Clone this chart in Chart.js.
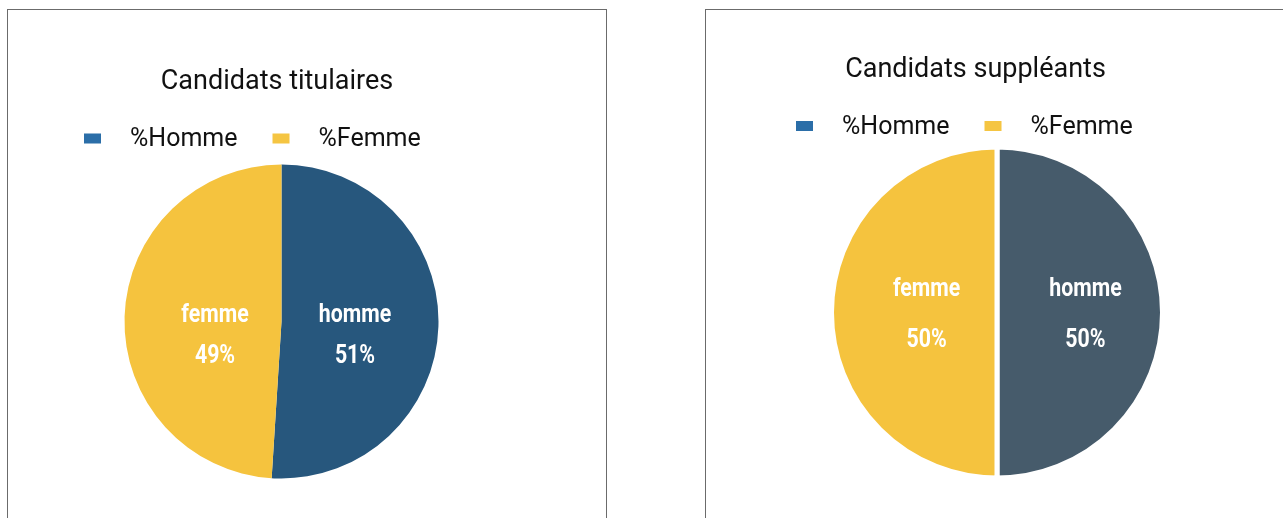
<!DOCTYPE html>
<html>
<head>
<meta charset="utf-8">
<script src="https://cdn.jsdelivr.net/npm/chart.js@4.4.0/dist/chart.umd.min.js"></script>
<style>
  body { margin: 0; background: #fff; width: 1283px; height: 518px; overflow: hidden; position: relative; }
  .panel { position: absolute; border: 1px solid #6b6b6b; box-sizing: border-box; }
  canvas { position: absolute; top: 0; }
</style>
</head>
<body>
<div class="panel" style="left:7px; top:9px; width:600px; height:600px;"></div>
<div class="panel" style="left:705px; top:9px; width:700px; height:600px;"></div>
<canvas id="chartTitulaires" width="640" height="518" style="left:0"></canvas>
<canvas id="chartSuppleants" width="643" height="518" style="left:640px"></canvas>

<script>
// data
const categories = ['homme', 'femme'];
const legendLabels = ['%Homme', '%Femme'];
const titulaires = [51, 49];
const suppleants = [50, 50];
const chartTitles = ['Candidats titulaires', 'Candidats suppléants'];

const legendColors = ['#2b6ea8', '#f5c542'];

// white condensed labels inside the slices
function drawCondensed(ctx, text, x, y) {
  ctx.save();
  ctx.translate(x, y);
  ctx.scale(0.82, 1);
  ctx.fillText(text, 0, 0);
  ctx.restore();
}

const overlay = {
  id: 'overlay',
  afterDatasetsDraw(chart, args, opts) {
    const ctx = chart.ctx;
    const meta = chart.getDatasetMeta(0);
    const values = chart.data.datasets[0].data;
    const total = values.reduce((a, b) => a + b, 0);
    ctx.save();
    ctx.fillStyle = '#ffffff';
    ctx.font = 'bold 26px Roboto';
    ctx.textAlign = 'center';
    ctx.textBaseline = 'alphabetic';
    meta.data.forEach((arc, i) => {
      const p = arc.getProps(['x', 'y', 'startAngle', 'endAngle', 'outerRadius'], true);
      const mid = (p.startAngle + p.endAngle) / 2;
      const x = p.x + Math.cos(mid) * p.outerRadius * opts.labelRadius + opts.shiftX;
      const y = p.y;
      drawCondensed(ctx, categories[i], x, y + opts.line1);
      drawCondensed(ctx, Math.round(values[i] / total * 100) + '%', x, y + opts.line2);
    });
    ctx.restore();
  },
  afterDraw(chart, args, opts) {
    const ctx = chart.ctx;
    ctx.save();
    // title
    ctx.fillStyle = '#111';
    ctx.font = '27px Roboto';
    ctx.textAlign = 'center';
    ctx.fillText(opts.title, opts.titleX, opts.titleY);
    // legend
    ctx.font = '25px Roboto';
    ctx.textAlign = 'left';
    let x = opts.legendX;
    legendLabels.forEach((lbl, i) => {
      ctx.fillStyle = legendColors[i];
      ctx.fillRect(x, opts.legendY - 12.5, 17, 10);
      x += 17 + 29;
      ctx.fillStyle = '#111';
      ctx.fillText(lbl, x, opts.legendY);
      x += ctx.measureText(lbl).width + 35;
    });
    ctx.restore();
  }
};

function makePie(id, values, colors, border, padding, ov) {
  return new Chart(document.getElementById(id), {
    type: 'pie',
    data: {
      labels: categories,
      datasets: [{
        data: values,
        backgroundColor: colors,
        borderColor: '#ffffff',
        borderWidth: border
      }]
    },
    options: {
      responsive: false,
      animation: false,
      devicePixelRatio: 1,
      layout: { padding: padding },
      plugins: {
        legend: { display: false },
        tooltip: { enabled: false },
        title: { display: false },
        overlay: ov
      }
    },
    plugins: [overlay]
  });
}

makePie('chartTitulaires', titulaires, ['#27577d', '#f5c33e'], 0,
  { left: 124.5, right: 201.5, top: 164.5, bottom: 39.5 },
  { title: chartTitles[0], titleX: 277, titleY: 89, legendX: 84, legendY: 146,
    labelRadius: 0.446, shiftX: 3.5, line1: 0.5, line2: 41.5 });

makePie('chartSuppleants', suppleants, ['#465b6b', '#f5c33e'], 5,
  { left: 189, right: 118, top: 144.5, bottom: 37.5 },
  { title: chartTitles[1], titleX: 335.5, titleY: 77, legendX: 156, legendY: 133.5,
    labelRadius: 0.48, shiftX: 9, line1: -16.5, line2: 34.5 });
</script>
</body>
</html>
